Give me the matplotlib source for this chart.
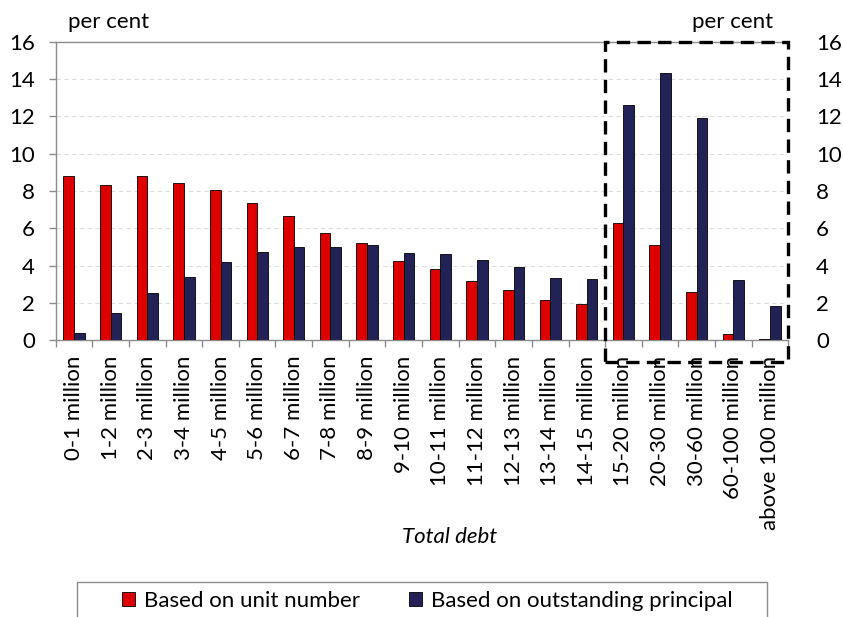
import matplotlib.pyplot as plt
from matplotlib.patches import Rectangle
import numpy as np

plt.rcParams["font.family"] = ["Lato", "DejaVu Sans"]

categories = [
    "0-1 million", "1-2 million", "2-3 million", "3-4 million", "4-5 million",
    "5-6 million", "6-7 million", "7-8 million", "8-9 million", "9-10 million",
    "10-11 million", "11-12 million", "12-13 million", "13-14 million",
    "14-15 million", "15-20 million", "20-30 million", "30-60 million",
    "60-100 million", "above 100 million",
]
unit_number = [8.79, 8.31, 8.82, 8.43, 8.04, 7.38, 6.68, 5.73, 5.20, 4.25,
               3.80, 3.20, 2.70, 2.14, 1.95, 6.29, 5.11, 2.61, 0.34, 0.05]
outstanding = [0.39, 1.45, 2.54, 3.38, 4.18, 4.73, 5.00, 5.00, 5.11, 4.70,
               4.61, 4.30, 3.91, 3.36, 3.29, 12.59, 14.32, 11.89, 3.21, 1.84]
yticks = [0, 2, 4, 6, 8, 10, 12, 14, 16]

red = "#DC0000"
navy = "#232256"
grey = "#8C8C8C"
fs = 16

fig = plt.figure(figsize=(8.43, 6.17), dpi=100)
ax = fig.add_axes([55.7 / 843, 1 - 340.3 / 617, (788.3 - 55.7) / 843, (340.3 - 41.7) / 617])

x = np.arange(len(categories))
w = 0.29
ax.bar(x - w / 2, unit_number, w, color=red, edgecolor="black", linewidth=0.6,
       label="Based on unit number", zorder=3)
ax.bar(x + w / 2, outstanding, w, color=navy, edgecolor="black", linewidth=0.6,
       label="Based on outstanding principal", zorder=3)

ax.set_xlim(-0.5, len(categories) - 0.5)
ax.set_ylim(0, 16)
ax.set_yticks(yticks)
ax.set_yticklabels([str(v) for v in yticks], fontsize=fs)
ax.tick_params(axis="y", length=5, width=1, color=grey, pad=10)

for v in yticks[1:-1]:
    ax.axhline(v, color="#DDDDDD", linestyle=(0, (4, 3)), linewidth=0.8, zorder=1)

# category boundaries as major ticks, labels on minor ticks
ax.set_xticks(np.arange(-0.5, len(categories) + 0.5, 1))
ax.set_xticklabels([])
ax.set_xticks(x, minor=True)
ax.set_xticklabels(categories, minor=True, rotation=90, fontsize=fs)
ax.tick_params(axis="x", which="major", length=5, width=1, color=grey, direction="out")
ax.tick_params(axis="x", which="minor", length=0, pad=11)

for s in ["left", "bottom", "top"]:
    ax.spines[s].set_color(grey)
    ax.spines[s].set_linewidth(1)
ax.spines["right"].set_visible(False)

ax2 = ax.twinx()
ax2.set_ylim(0, 16)
ax2.set_yticks(yticks)
ax2.set_yticklabels([str(v) for v in yticks], fontsize=fs)
ax2.tick_params(axis="y", length=0, pad=20)
for s in ax2.spines.values():
    s.set_visible(False)

fig.text(68 / 843, 1 - 22 / 617, "per cent", fontsize=fs, va="center", ha="left")
fig.text(773 / 843, 1 - 22 / 617, "per cent", fontsize=fs, va="center", ha="right")
fig.text(450 / 843, 1 - 537 / 617, "Total debt", fontsize=fs, style="italic",
         va="center", ha="center")

# dashed highlight box around the last five groups
box = Rectangle((605 / 843, 1 - 361.7 / 617), (788 - 605) / 843, (361.7 - 42) / 617,
                transform=fig.transFigure, fill=False, edgecolor="black",
                linewidth=2.4, linestyle=(0, (4, 2.2)), zorder=10)
fig.patches.append(box)

frame = Rectangle((77 / 843, 1 - 625 / 617), (767 - 77) / 843, (625 - 582) / 617,
                  transform=fig.transFigure, fill=False, edgecolor=grey, linewidth=1)
fig.patches.append(frame)

handles, labels = ax.get_legend_handles_labels()
fig.legend(handles, labels, loc="center", bbox_to_anchor=(427 / 843, 1 - 601 / 617),
           ncol=2, frameon=False, fontsize=fs, handlelength=0.6, handleheight=0.6,
           handletextpad=0.4, columnspacing=2.2, borderpad=0)

plt.savefig("out.png", dpi=100)
